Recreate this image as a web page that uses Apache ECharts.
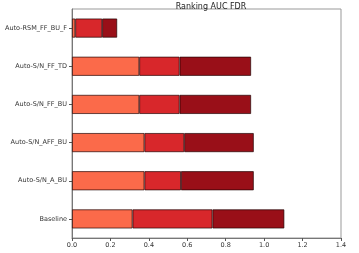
<!DOCTYPE html>
<html>
<head>
<meta charset="utf-8">
<script src="https://cdn.jsdelivr.net/npm/echarts@6/dist/echarts.min.js"></script>
<style>html,body{margin:0;padding:0;background:#fff;}#c{width:359px;height:253px;}</style>
</head>
<body>
<div id="c"></div>
<script>
const categories = ['Baseline', 'Auto-S/N_A_BU', 'Auto-S/N_AFF_BU', 'Auto-S/N_FF_BU', 'Auto-S/N_FF_TD', 'Auto-RSM_FF_BU_F'];
const seg1 = [0.315, 0.377, 0.377, 0.350, 0.350, 0.017];
const seg2 = [0.416, 0.190, 0.207, 0.210, 0.210, 0.140];
const seg3 = [0.374, 0.379, 0.362, 0.372, 0.372, 0.078];
const xTicks = [0, 0.2, 0.4, 0.6, 0.8, 1.0, 1.2, 1.4];
const colors = ['#fb6a4a', '#d8272b', '#990f18'];

const chart = echarts.init(document.getElementById('c'), null, {renderer: 'canvas'});
const mk = (d, i) => ({
  type: 'bar', stack: 's', data: d, barWidth: '50%',
  itemStyle: {color: colors[i], borderColor: 'rgba(30,0,0,0.85)', borderWidth: 0.8},
  silent: true
});
chart.setOption({
  animation: false,
  title: {text: 'Ranking AUC FDR', left: 206, textAlign: 'center', top: -2,
    textStyle: {fontSize: 8, fontWeight: 'normal', color: '#222', fontFamily: 'DejaVu Sans'}},
  grid: {left: 72, right: 18, top: 9, bottom: 15, show: true, borderColor: '#999', borderWidth: 1},
  xAxis: {type: 'value', min: xTicks[0], max: xTicks[xTicks.length - 1], interval: 0.2,
    axisLine: {show: true, lineStyle: {color: '#777'}},
    axisTick: {show: true, length: 3, lineStyle: {color: '#555'}},
    splitLine: {show: false},
    axisLabel: {fontSize: 6.5, color: '#333', margin: 4, fontFamily: 'DejaVu Sans',
      formatter: v => v.toFixed(1)}},
  yAxis: {type: 'category', data: categories,
    axisLine: {show: true, lineStyle: {color: '#777'}},
    axisTick: {show: true, length: 3, alignWithLabel: true, lineStyle: {color: '#555'}},
    axisLabel: {fontSize: 6.5, color: '#333', margin: 5, fontFamily: 'DejaVu Sans'}},
  series: [mk(seg1, 0), mk(seg2, 1), mk(seg3, 2)]
});
</script>
</body>
</html>
